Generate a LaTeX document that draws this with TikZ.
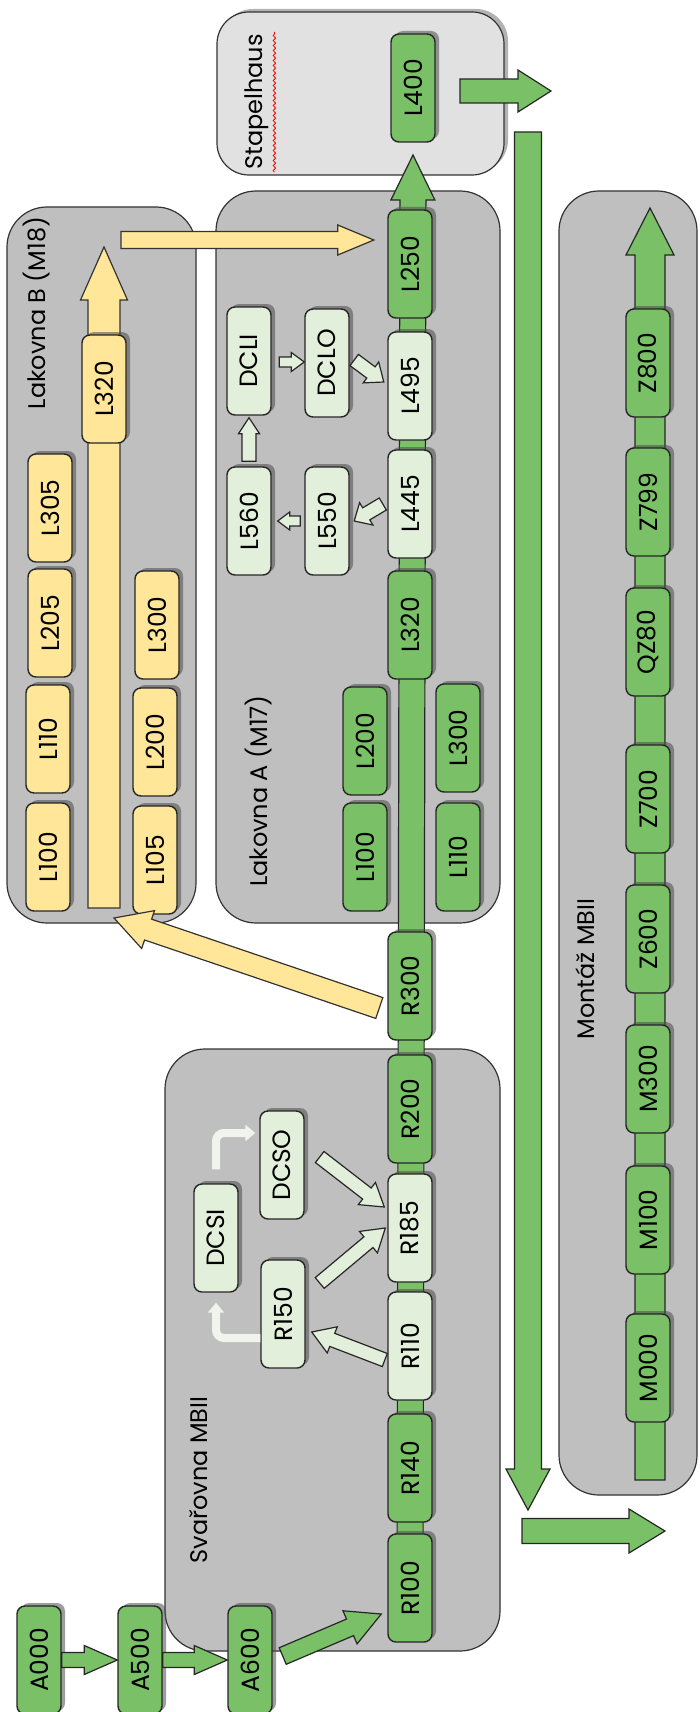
\documentclass[tikz,border=0pt]{standalone}
\usepackage{fontspec}
\setmainfont{Poppins}
\usetikzlibrary{calc, positioning, shadows, arrows.meta, decorations.pathmorphing}

\definecolor{stgreen}{RGB}{121,192,102}
\definecolor{lightgreen}{RGB}{226,239,218}
\definecolor{paleyellow}{RGB}{255,230,153}
\definecolor{zonegray}{RGB}{191,191,191}
\definecolor{stapgray}{RGB}{225,225,225}
\definecolor{fadegreen}{RGB}{240,244,236}

\pgfdeclarelayer{back}
\pgfdeclarelayer{band}
\pgfsetlayers{back,band,main}

\newcommand{\vlabel}[1]{\rotatebox{90}{#1}}
% block arrow: style, from, to, shaft half width, head half width, head length
\newcommand{\fatarrow}[6]{%
  \coordinate (fs) at #2;
  \coordinate (fe) at #3;
  \coordinate (fh) at ($(fe)!#6!(fs)$);
  \filldraw[#1] ($(fs)!#4!90:(fe)$) -- ($(fh)!#4!-90:(fs)$) -- ($(fh)!#5!-90:(fs)$)
    -- (fe) -- ($(fh)!#5!90:(fs)$) -- ($(fh)!#4!90:(fs)$) -- ($(fs)!#4!-90:(fe)$) -- cycle;
}

\tikzset{
  zone/.style={draw=black!80, fill=zonegray, rounded corners=20pt, line width=0.6pt},
  zonelabel/.style={inner sep=1pt, font=\fontsize{12}{14}\selectfont},
  station/.style={draw=black!85, rounded corners=4pt, minimum width=22pt,
    minimum height=54pt, inner sep=0pt, line width=0.7pt,
    font=\fontsize{12.5}{14}\selectfont,
    drop shadow={shadow xshift=2pt, shadow yshift=1.5pt, opacity=0.55, fill=black!70}},
  stn/.style={station, fill=stgreen},
  sub/.style={station, fill=lightgreen},
  yel/.style={station, fill=paleyellow},
  garrow/.style={fill=stgreen, draw=black!85, line width=0.6pt},
  larrow/.style={fill=lightgreen, draw=black!85, line width=0.6pt},
  yarrow/.style={fill=paleyellow, draw=black!80, line width=0.6pt},
  fade/.style={draw=fadegreen, line width=4pt, rounded corners=4pt, -{Triangle[width=8pt,length=5pt]}}
}

\begin{document}
\begin{tikzpicture}[x=0.5pt, y=-0.5pt]
\useasboundingbox (0,0) rectangle (700,1712);

% Halls
\begin{pgfonlayer}{back}
\draw[zone] (165,1049) rectangle (500,1651);
\draw[zone] (216,191) rectangle (500,923);
\draw[zone] (7,207) rectangle (196,923);
\draw[zone] (559,191) rectangle (697,1495);
\draw[zone, rounded corners=16pt, fill=stapgray, drop shadow={shadow xshift=2pt, shadow yshift=1.5pt, opacity=0.5, fill=black!60}] (217,12) rectangle (504,175);
\end{pgfonlayer}

\node[zonelabel] (lblSvar) at (199,1480) {\vlabel{Svařovna MBII}};
\node[zonelabel] (lblLakA) at (259,791) {\vlabel{Lakovna A (M17)}};
\node[zonelabel] (lblLakB) at (37,313) {\vlabel{Lakovna B (M18)}};
\node[zonelabel] (lblStap) at (257,102) {\vlabel{Stapelhaus}};
\node[zonelabel] (lblMont) at (585,969) {\vlabel{Montáž MBII}};
\draw[red, line width=0.4pt, decorate, decoration={snake, amplitude=0.6pt, segment length=2.5pt}]
  ([xshift=1.5pt]lblStap.south east) -- ([xshift=1.5pt]lblStap.north east);

% Feeder stations
\node[stn] (A000) at (39,1660) {\vlabel{A000}};
\node[stn] (A500) at (140,1660) {\vlabel{A500}};
\node[stn] (A600) at (250,1660) {\vlabel{A600}};

% Svarovna
\node[stn] (R100) at (410,1588) {\vlabel{R100}};
\node[stn] (R140) at (410,1468) {\vlabel{R140}};
\node[sub] (R110) at (410,1346) {\vlabel{R110}};
\node[sub] (R185) at (410,1228) {\vlabel{R185}};
\node[stn] (R200) at (410,1109) {\vlabel{R200}};
\node[stn] (R300) at (410,986) {\vlabel{R300}};
\node[sub] (R150) at (283,1314) {\vlabel{R150}};
\node[sub] (DCSI) at (216,1238) {\vlabel{DCSI}};
\node[sub] (DCSO) at (282,1165) {\vlabel{DCSO}};

% Lakovna A
\node[stn] (L320a) at (410,625) {\vlabel{L320}};
\node[sub] (L445) at (410,504) {\vlabel{L445}};
\node[sub] (L495) at (410,386) {\vlabel{L495}};
\node[stn] (L250) at (410,264) {\vlabel{L250}};
\node[stn] (L100a) at (365,857) {\vlabel{L100}};
\node[stn] (L200a) at (365,741) {\vlabel{L200}};
\node[stn] (L110a) at (458,857) {\vlabel{L110}};
\node[stn] (L300a) at (458,738) {\vlabel{L300}};
\node[sub] (L550) at (327,521) {\vlabel{L550}};
\node[sub] (L560) at (249,521) {\vlabel{L560}};
\node[sub] (DCLI) at (249,361) {\vlabel{DCLI}};
\node[sub] (DCLO) at (327,363) {\vlabel{DCLO}};

% Stapelhaus
\node[stn] (L400) at (413,88) {\vlabel{L400}};

% Lakovna B
\node[yel] (L100b) at (48,857) {\vlabel{L100}};
\node[yel] (L110b) at (48,739) {\vlabel{L110}};
\node[yel] (L205b) at (50,623) {\vlabel{L205}};
\node[yel] (L305b) at (50,508) {\vlabel{L305}};
\node[yel] (L105b) at (155,860) {\vlabel{L105}};
\node[yel] (L200b) at (155,742) {\vlabel{L200}};
\node[yel] (L300b) at (157,625) {\vlabel{L300}};
\node[yel] (L320b) at (104,389) {\vlabel{L320}};

% Montaz
\node[stn] (M000) at (648,1368) {\vlabel{M000}};
\node[stn] (M100) at (648,1220) {\vlabel{M100}};
\node[stn] (M300) at (648,1079) {\vlabel{M300}};
\node[stn] (Z600) at (648,939) {\vlabel{Z600}};
\node[stn] (Z700) at (648,799) {\vlabel{Z700}};
\node[stn] (QZ80) at (648,642) {\vlabel{QZ80}};
\node[stn] (Z799) at (648,502) {\vlabel{Z799}};
\node[stn] (Z800) at (648,363) {\vlabel{Z800}};

% Free ends
\coordinate (l400in) at (413,155);
\coordinate (mbase) at (650,1480);
\coordinate (mtop) at (650,208);
\coordinate (ybase) at (104,908);
\coordinate (ytop) at (104,247);
\coordinate (ybout) at (121,240);
\coordinate (lakbin) at (114,918);
\coordinate (stapout) at (460,91);
\coordinate (stapend) at (551,91);
\coordinate (dtop) at (528,132);
\coordinate (dbot) at (528,1510);
\coordinate (rstart) at (522,1531);
\coordinate (rend) at (665,1531);

% Conveyor lines
\begin{pgfonlayer}{band}
\fatarrow{garrow}{(R100.center)}{(l400in)}{6.5pt}{11pt}{22.5pt}
\fatarrow{garrow}{(mbase)}{(mtop)}{7.5pt}{12pt}{23.5pt}
\fatarrow{yarrow}{(ybase)}{(ytop)}{8pt}{11.75pt}{26.5pt}
\end{pgfonlayer}

% Transfers
\fatarrow{garrow}{(A000.east)}{(A500.west)}{3.75pt}{7.25pt}{16.5pt}
\fatarrow{garrow}{(A500.east)}{(A600.west)}{3.75pt}{7.25pt}{16.5pt}
\fatarrow{garrow}{([xshift=5pt,yshift=2pt]A600.east)}{([xshift=-3pt,yshift=-13pt]R100.west)}{4.5pt}{9pt}{17pt}
\fatarrow{larrow}{([xshift=-1.25pt,yshift=-7pt]R110.west)}{([xshift=3pt,yshift=-9pt]R150.east)}{3.5pt}{7pt}{11pt}
\fatarrow{larrow}{([xshift=7pt,yshift=15.5pt]R150.east)}{([xshift=-1pt]R185.west)}{3.5pt}{7pt}{11pt}
\fatarrow{larrow}{([xshift=7.5pt,yshift=4pt]DCSO.east)}{([xshift=-1.5pt,yshift=10.5pt]R185.west)}{3.5pt}{7pt}{11pt}
\draw[fade, shorten >=5pt] ([yshift=-12pt]R150.west) -| (DCSI.south);
\draw[fade, shorten <=7pt, shorten >=2pt] (DCSI.north) |- ([yshift=16pt]DCSO.west);
\fatarrow{yarrow}{([xshift=-4pt,yshift=-11pt]R300.west)}{(lakbin)}{5.5pt}{10pt}{18pt}
\fatarrow{yarrow}{(ybout)}{([xshift=-6.75pt,yshift=12pt]L250.west)}{4.25pt}{7.5pt}{18pt}
\fatarrow{larrow}{([xshift=-2.25pt]L445.west)}{([xshift=2.25pt]L550.east)}{3.5pt}{6.5pt}{7pt}
\fatarrow{larrow}{([xshift=-2pt]L550.west)}{([xshift=3pt]L560.east)}{2.5pt}{4.5pt}{6pt}
\fatarrow{larrow}{([yshift=2.5pt]L560.north)}{([yshift=-1pt]DCLI.south)}{3.5pt}{5.25pt}{8pt}
\fatarrow{larrow}{([xshift=3.75pt,yshift=-0.5pt]DCLI.east)}{([yshift=0.5pt]DCLO.west)}{2.5pt}{4.75pt}{6.5pt}
\fatarrow{larrow}{([xshift=2.25pt,yshift=1.5pt]DCLO.east)}{([xshift=-1.75pt,yshift=2pt]L495.west)}{3.5pt}{6.5pt}{8pt}
\fatarrow{garrow}{(stapout)}{(stapend)}{6pt}{10.5pt}{16.5pt}
\fatarrow{garrow}{(dtop)}{(dbot)}{6.75pt}{11pt}{20.5pt}
\fatarrow{garrow}{(rstart)}{(rend)}{6.25pt}{11pt}{18pt}
\end{tikzpicture}
\end{document}
